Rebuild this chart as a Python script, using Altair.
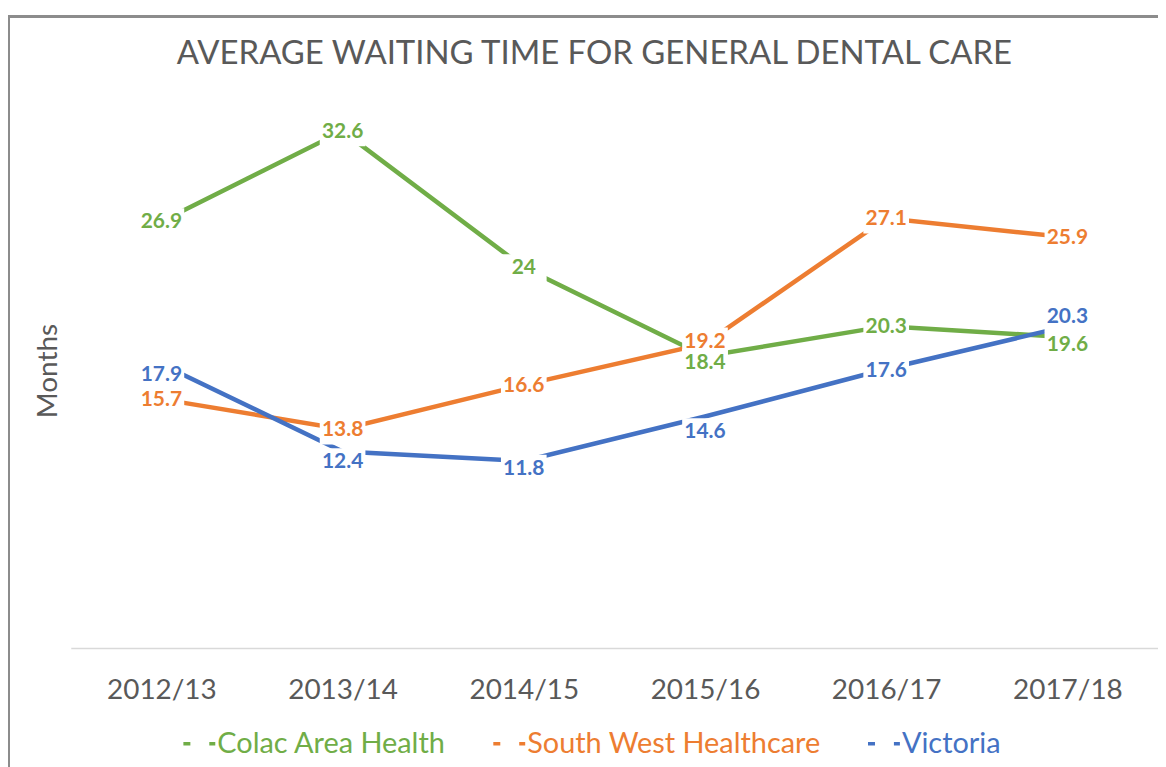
import altair as alt
import pandas as pd

years = ["2012/13", "2013/14", "2014/15", "2015/16", "2016/17", "2017/18"]
series_names = ["Colac Area Health", "South West Healthcare", "Victoria"]
colac = [26.9, 32.6, 24.0, 18.4, 20.3, 19.6]
south_west = [15.7, 13.8, 16.6, 19.2, 27.1, 25.9]
victoria = [17.9, 12.4, 11.8, 14.6, 17.6, 20.3]
colors = ["#70AD47", "#ED7D31", "#4472C4"]

rows = []
for name, vals in zip(series_names, [colac, south_west, victoria]):
    for y, v in zip(years, vals):
        rows.append({"year": y, "series": name, "value": v})
df = pd.DataFrame(rows)

FONT = "Lato"
GRAY = "#595959"
Y_MAX = 35
PLOT_H = 557

label_color_expr = (
    f"datum.value == '{series_names[0]}' ? '{colors[0]}' : "
    f"datum.value == '{series_names[1]}' ? '{colors[1]}' : '{colors[2]}'"
)

x_enc = alt.X("year:N", sort=years, scale=alt.Scale(type="point", padding=0.5),
              axis=alt.Axis(title=None, labelAngle=0, ticks=False, labelFontSize=28,
                            labelColor=GRAY, labelFont=FONT, labelPadding=29,
                            domainColor="#d9d9d9", domainWidth=1.5, grid=False))
y_enc = alt.Y("value:Q", scale=alt.Scale(domain=[0, Y_MAX], nice=False, zero=True),
              axis=alt.Axis(title="Months", labels=False, ticks=False, domain=False,
                            grid=False, titleFontSize=28, titleFont=FONT,
                            titleColor=GRAY, titleFontWeight="normal", titlePadding=8))
color_scale = alt.Scale(domain=series_names, range=colors)

base = alt.Chart(df)

frame = base.mark_rect(fill=None, stroke="#8c8c8c", strokeWidth=2).encode(
    x=alt.value(-62), x2=alt.value(1400), y=alt.value(-77), y2=alt.value(900)
)

lines = base.mark_line(strokeWidth=4.5).encode(
    x=x_enc, y=y_enc,
    color=alt.Color("series:N", scale=color_scale, sort=series_names,
                    legend=alt.Legend(
                        title=None, orient="none", direction="horizontal",
                        legendX=111, legendY=635,
                        symbolType="stroke", symbolSize=1024, symbolStrokeWidth=3.5,
                        symbolDash=[7, 19], labelFontSize=29, labelFont=FONT,
                        labelOffset=0, columnPadding=40, labelLimit=600,
                        labelColor=alt.ExprRef(label_color_expr),
                    )),
    detail="series:N",
)

nudge_expr = (
    "datum.series == 'Victoria' ? "
    "(datum.year == '2017/18' ? -9 : datum.year == '2015/16' ? 16 : datum.year == '2016/17' ? 2 : datum.year == '2014/15' ? 8 : 11) : "
    "datum.series == 'Colac Area Health' ? "
    "(datum.year == '2017/18' ? 8 : datum.year == '2015/16' ? 7 : 1) : "
    "(datum.year == '2015/16' ? -2 : 1)"
)

labelled = base.transform_calculate(nudge=nudge_expr).transform_calculate(
    label_y=f"datum.value - datum.nudge * {Y_MAX} / {PLOT_H}"
)

label_y = alt.Y("label_y:Q", scale=alt.Scale(domain=[0, Y_MAX], nice=False, zero=True))

boxes = labelled.mark_point(shape="M-1,-0.62H1V0.62H-1Z", filled=True, fill="white",
                            strokeWidth=0, opacity=1, size=2100).encode(
    x=alt.X("year:N", sort=years), y=label_y,
)

texts = labelled.mark_text(font=FONT, fontSize=21, fontWeight="bold", baseline="middle",
                           align="center").encode(
    x=alt.X("year:N", sort=years), y=label_y,
    text=alt.Text("value:Q", format=".1~f"),
    color=alt.Color("series:N", scale=color_scale, legend=None),
)

chart = alt.layer(frame, lines, boxes, texts).properties(
    width=1091, height=PLOT_H,
    background="white",
    title=alt.TitleParams("AVERAGE WAITING TIME FOR GENERAL DENTAL CARE", fontSize=33,
                          font=FONT, fontWeight="normal", color=GRAY, anchor="middle",
                          frame="group", baseline="alphabetic", dx=-20, dy=108, offset=26),
    autosize=alt.AutoSizeParams(type="none"),
    padding={"left": 63, "top": 84, "right": 0, "bottom": 118},
).configure_view(strokeWidth=0, stroke="transparent")

chart.save("out.html", embed_options={"renderer": "svg", "actions": False})
